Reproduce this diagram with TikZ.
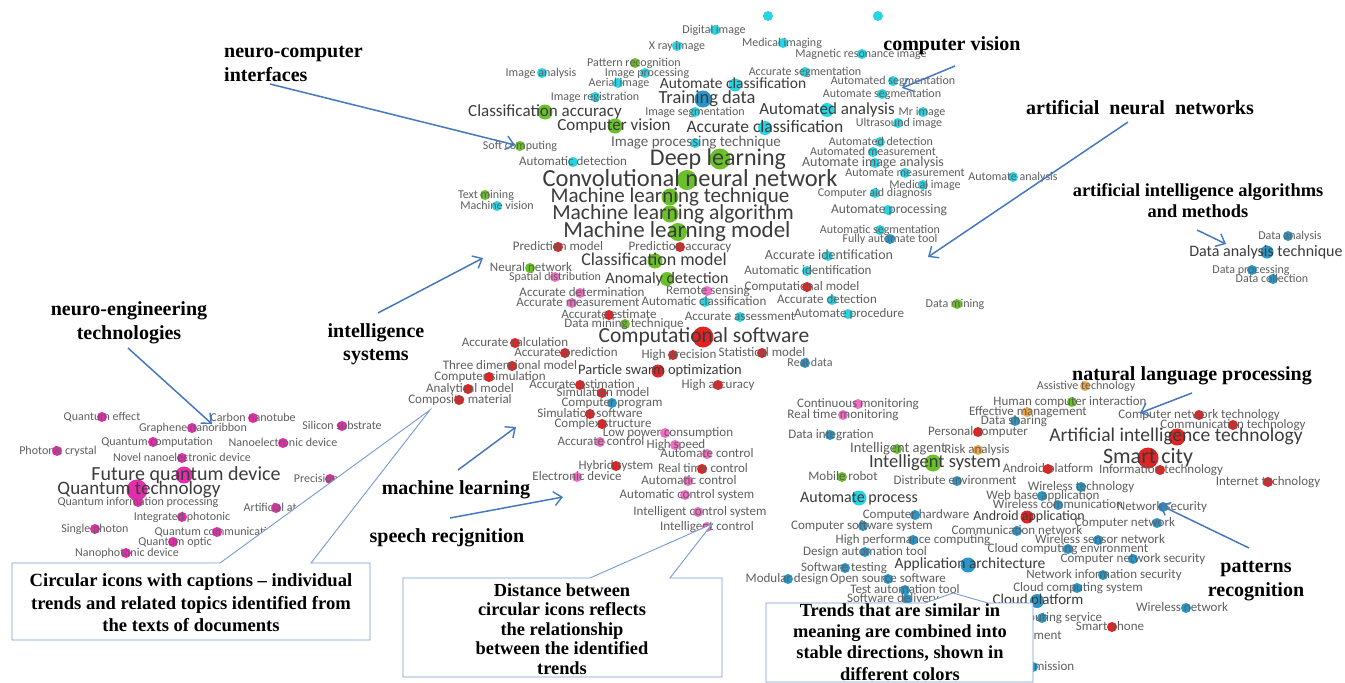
\documentclass[tikz,border=0pt]{standalone}
\usepackage{fontspec}
\setmainfont{Liberation Serif}
\newfontfamily\termfont{Carlito}
\usetikzlibrary{arrows.meta}
\pgfdeclarelayer{dots}
\pgfsetlayers{dots,main}
\definecolor{cy}{RGB}{40,212,228}
\definecolor{gr}{RGB}{105,192,40}
\definecolor{rd}{RGB}{225,35,35}
\definecolor{pk}{RGB}{240,110,195}
\definecolor{mg}{RGB}{228,45,170}
\definecolor{bl}{RGB}{40,150,200}
\definecolor{orc}{RGB}{240,165,70}
\definecolor{txt}{RGB}{95,95,95}
\definecolor{txtd}{RGB}{60,60,60}
\definecolor{arr}{RGB}{70,120,190}
\definecolor{boxc}{RGB}{120,155,210}
\newcounter{tn}
% #1 x, #2 y, #3 dot x, #4 colour, #5 radius, #6 font size, #7 text colour, #8 text
\newcommand\trm[8]{%
  \stepcounter{tn}%
  \begin{pgfonlayer}{dots}\fill[#4] (#3,#2) circle (#5);\end{pgfonlayer}%
  \node[term,text=#7,font=\termfont\fontsize{#6}{#6}\selectfont] (t\number\value{tn}) at ({#1},{#2+0.25*#6}) {#8};}
\newcommand\sm[6][12]{\trm{#2}{#3}{#4}{#5}{5}{#1}{txt}{#6}}
\newcommand\bt[6]{\trm{#1}{#2}{#3}{#4}{#5}{#6}{txtd}}
\tikzset{
  term/.style={inner sep=0pt,anchor=base},
  lab/.style={font=\bfseries\fontsize{20}{23.5}\selectfont,align=center,inner sep=0pt,text=black},
  pointer/.style={draw=arr,line width=1.5pt,-{Straight Barb[length=8pt,width=14pt,line width=1.4pt]}},
  callout/.style={draw=boxc,line width=0.9pt,fill=white},
  boxtext/.style={font=\bfseries\fontsize{18.6}{22.4}\selectfont,align=center,inner sep=0pt,text=black}
}
\begin{document}
\begin{tikzpicture}[x=1pt,y=-1pt]
\useasboundingbox (0,0) rectangle (1345,683);
\begin{pgfonlayer}{dots}\fill[white] (0,0) rectangle (1345,683);\end{pgfonlayer}
% cut-off dots at top
\begin{pgfonlayer}{dots}\fill[cy] (768,16) circle (5); \fill[cy] (878,16) circle (5);\end{pgfonlayer}
% ---------- computer vision cluster ----------
\sm{714}{30}{715}{cy}{Digital image}
\sm{677}{46}{677}{cy}{X ray image}
\sm{782}{43}{783}{cy}{Medical imaging}
\sm{861}{54}{862}{cy}{Magnetic resonance image}
\sm{634}{63}{635}{gr}{Pattern recognition}
\sm{541}{73}{542}{cy}{Image analysis}
\sm{647}{73}{645}{cy}{Image processing}
\sm{805}{72}{805}{cy}{Accurate segmentation}
\sm{619}{83}{618}{cy}{Aerial image}
\sm{893}{81}{893}{cy}{Automated segmentation}
\sm{882}{94}{882}{cy}{Automate segmentation}
\sm{595}{97}{595}{cy}{Image registration}
\sm{695}{112}{695}{cy}{Image segmentation}
\sm{922}{112}{923}{cy}{Mr image}
\sm{899}{123}{898}{cy}{Ultrasound image}
\sm{520}{146}{520}{gr}{Soft computing}
\sm[15]{696}{143}{695}{cy}{Image processing technique}
\sm{881}{142}{880}{cy}{Automated detection}
\sm{873}{152}{873}{cy}{Automated measurement}
\sm[13]{573}{162}{573}{cy}{Automatic detection}
\sm[14]{873}{163}{875}{cy}{Automate image analysis}
\sm{905}{173}{905}{cy}{Automate measurement}
\sm{1013}{177}{1013}{cy}{Automate analysis}
\sm{925}{185}{923}{cy}{Medical image}
\sm{875}{193}{875}{cy}{Computer aid diagnosis}
\sm{486}{195}{485}{gr}{Text mining}
\sm{497}{206}{497}{cy}{Machine vision}
\sm[13.5]{889}{210}{888}{cy}{Automate processing}
\sm{880}{230}{880}{cy}{Automatic segmentation}
\sm{890}{239}{890}{bl}{Fully automate tool}
\bt{733}{85}{735}{cy}{6.5}{15.5}{Automate classification}
\bt{707}{99}{703}{bl}{8.5}{18.5}{Training data}
\bt{545}{112}{545}{gr}{7.5}{17}{Classification accuracy}
\bt{827}{110}{827}{cy}{7}{17}{Automated analysis}
\bt{614}{126}{615}{gr}{7.5}{17}{Computer vision}
\bt{765}{128}{765}{cy}{7}{17.5}{Accurate classification}
% ---------- machine learning cluster ----------
\bt{718}{159}{720}{gr}{10.5}{24}{Deep learning}
\bt{690}{180}{687}{gr}{10}{24.5}{Convolutional neural network}
\bt{670}{197}{670}{gr}{8.5}{21}{Machine learning technique}
\bt{673}{214}{670}{gr}{8.5}{21.5}{Machine learning algorithm}
\bt{677}{232}{678}{gr}{9}{23}{Machine learning model}
\sm[13]{558}{247}{558}{rd}{Prediction model}
\sm[13]{680}{247}{680}{rd}{Prediction accuracy}
\sm[14]{829}{256}{828}{cy}{Accurate identification}
\bt{654}{261}{655}{gr}{7.5}{18}{Classification model}
\sm[13]{531}{268}{530}{gr}{Neural network}
\sm[13]{808}{271}{807}{cy}{Automatic identification}
\sm{555}{277}{555}{pk}{Spatial distribution}
\bt{667}{279}{667}{gr}{7}{16}{Anomaly detection}
\sm[13]{582}{293}{580}{pk}{Accurate determination}
\sm[13]{708}{291}{707}{pk}{Remote sensing}
\sm[13]{802}{287}{807}{rd}{Computational model}
\sm[13]{578}{303}{572}{pk}{Accurate measurement}
\sm[13]{704}{302}{705}{cy}{Automatic classification}
\sm[13]{827}{300}{832}{cy}{Accurate detection}
\sm{955}{304}{957}{gr}{Data mining}
\sm[13]{609}{315}{609}{rd}{Accurate estimate}
\sm[13]{740}{317}{740}{cy}{Accurate assessment}
\sm[13]{849}{314}{848}{cy}{Automate procedure}
\sm[13]{624}{324}{625}{gr}{Data mining technique}
% ---------- computational cluster ----------
\bt{704}{337}{703}{rd}{10.5}{21.5}{Computational software}
\sm[13]{515}{343}{515}{rd}{Accurate calculation}
\sm[13]{566}{353}{565}{rd}{Accurate prediction}
\sm[13]{679}{355}{673}{rd}{High precision}
\sm[13]{762}{353}{762}{rd}{Statistical model}
\sm{810}{363}{805}{bl}{Real data}
\sm[13]{510}{366}{512}{rd}{Three dimensional model}
\bt{660}{371}{658}{rd}{6.5}{14.5}{Particle swarm optimization}
\sm[13]{490}{377}{489}{rd}{Computer simulation}
\sm[13]{582}{385}{580}{rd}{Accurate estimation}
\sm[13]{718}{385}{718}{rd}{High accuracy}
\sm[13]{470}{389}{468}{rd}{Analytical model}
\sm[13]{603}{393}{602}{rd}{Simulation model}
\sm[13]{460}{400}{459}{rd}{Composite material}
\sm[13]{612}{403}{612}{bl}{Computer program}
\sm[13]{590}{414}{590}{rd}{Simulation software}
\sm[13]{603}{424}{602}{rd}{Complex structure}
\sm[13]{668}{433}{665}{pk}{Low power consumption}
\sm[13]{601}{442}{600}{pk}{Accurate control}
\sm[13]{676}{445}{675}{pk}{High speed}
\sm[13]{707}{454}{707}{pk}{Automate control}
\sm[13]{616}{466}{616}{rd}{Hybrid system}
\sm[13]{703}{469}{702}{rd}{Real time control}
\sm[13]{577}{477}{577}{pk}{Electronic device}
\sm[13]{689}{481}{688}{pk}{Automatic control}
\sm[13]{687}{495}{685}{pk}{Automatic control system}
\sm[13]{700}{512}{698}{pk}{Intelligent control system}
\sm[13]{707}{527}{707}{pk}{Intelligent control}
% ---------- quantum cluster ----------
\sm{102}{417}{102}{mg}{Quantum effect}
\sm{253}{418}{253}{mg}{Carbon nanotube}
\sm{193}{428}{192}{mg}{Graphene nanoribbon}
\sm{342}{426}{342}{mg}{Silicon substrate}
\sm{157}{442}{153}{mg}{Quantum computation}
\sm{283}{443}{283}{mg}{Nanoelectronic device}
\sm{58}{451}{57}{mg}{Photonic crystal}
\sm{182}{458}{182}{mg}{Novel nanoelectronic device}
\bt{186}{475}{184}{mg}{8.5}{20}{Future quantum device}
\sm{316}{479}{330}{mg}{Precision}
\bt{139}{490}{137}{mg}{10.5}{19}{Quantum technology}
\sm{138}{502}{138}{mg}{Quantum information processing}
\sm{278}{508}{276}{mg}{Artificial atom}
\sm{182}{517}{182}{mg}{Integrated photonic}
\sm{95}{529}{95}{mg}{Single photon}
\sm{217}{532}{217}{mg}{Quantum communication}
\sm{175}{542}{173}{mg}{Quantum optic}
\sm{127}{553}{126}{mg}{Nanophotonic device}
% ---------- data analysis cluster ----------
\sm{1290}{236}{1288}{bl}{Data analysis}
\bt{1266}{252}{1267}{bl}{6.5}{16}{Data analysis technique}
\sm{1251}{270}{1252}{bl}{Data processing}
\sm{1272}{279}{1273}{bl}{Data collection}
% ---------- intelligent systems / networks cluster ----------
\sm{1086}{386}{1085}{orc}{Assistive technology}
\sm[13]{1070}{402}{1072}{gr}{Human computer interaction}
\sm[13]{858}{404}{858}{pk}{Continuous monitoring}
\sm[13]{843}{415}{843}{pk}{Real time monitoring}
\sm[13]{1028}{412}{1027}{orc}{Effective management}
\sm[13]{1014}{421}{1015}{bl}{Data sharing}
\sm[13]{1199}{415}{1199}{rd}{Computer network technology}
\sm[13]{1233}{425}{1233}{rd}{Communication technology}
\sm[13]{831}{435}{830}{bl}{Data integration}
\sm[13]{978}{432}{978}{rd}{Personal computer}
\bt{1176}{437}{1177}{rd}{8.5}{19.5}{Artificial intelligence technology}
\sm[14.5]{898}{449}{897}{gr}{Intelligent agent}
\sm[13]{977}{450}{978}{orc}{Risk analysis}
\bt{935}{463}{933}{gr}{8.5}{18.5}{Intelligent system}
\bt{1148}{458}{1148}{rd}{10.5}{22}{Smart city}
\sm[13]{1048}{469}{1048}{rd}{Android platform}
\sm[13]{1161}{470}{1160}{rd}{Information technology}
\sm[13]{1268}{482}{1268}{rd}{Internet technology}
\sm[13]{843}{477}{842}{gr}{Mobile robot}
\sm[13]{955}{481}{957}{bl}{Distribute environment}
\sm[13]{1081}{487}{1081}{bl}{Wireless technology}
\bt{859}{498}{859}{cy}{7.5}{16}{Automate process}
\sm[13]{1043}{496}{1042}{bl}{Web base application}
\sm[13]{1058}{505}{1058}{bl}{Wireless communication}
\sm[13]{1162}{507}{1163}{bl}{Network security}
\sm[13]{916}{515}{915}{bl}{Computer hardware}
\bt{1029}{517}{1027}{rd}{6.5}{14}{Android application}
\sm[13]{1125}{523}{1157}{bl}{Computer network}
\sm[13]{862}{526}{863}{bl}{Computer software system}
\sm[13]{1017}{531}{1017}{bl}{Communication network}
\sm[13]{913}{540}{913}{bl}{High performance computing}
\sm[13]{1100}{540}{1098}{bl}{Wireless sensor network}
\sm[13]{865}{552}{865}{bl}{Design automation tool}
\sm[13]{1068}{549}{1068}{bl}{Cloud computing environment}
\sm[13]{1133}{559}{1133}{bl}{Computer network security}
\bt{970}{565}{968}{bl}{7.5}{15.5}{Application architecture}
\sm[13]{844}{568}{845}{bl}{Software testing}
\sm[13]{787}{579}{788}{bl}{Modular design}
\sm[13]{888}{579}{888}{bl}{Open source software}
\sm[13]{1104}{575}{1103}{bl}{Network information security}
\sm[13]{905}{590}{905}{bl}{Test automation tool}
\sm[13]{1078}{588}{1077}{bl}{Cloud computing system}
\sm[13]{893}{599}{907}{bl}{Software delivery}
\bt{1038}{601}{1037}{bl}{7}{15}{Cloud platform}
\sm[13]{1182}{608}{1186}{bl}{Wireless network}
\sm[13]{1053}{618}{1042}{bl}{Computing service}
\sm[13]{1110}{627}{1112}{rd}{Smart phone}
\sm[13]{1011}{636}{1000}{bl}{Cloud environment}
\sm[13]{1027}{667}{1033}{bl}{Data transmission}
% ---------- callout labels ----------
\node[lab,align=left,anchor=west] (Lnci) at (224,64) {neuro-computer\\interfaces};
\node[lab] (Lcv) at (952,46) {computer vision};
\node[lab] (Lann) at (1140,108) {artificial\ \ neural\ \ networks};
\node[lab,font=\bfseries\fontsize{18.4}{21}\selectfont] (Laim) at (1198,201) {artificial intelligence algorithms\\and methods};
\node[lab] (Lne) at (129,323) {neuro-engineering\\technologies};
\node[lab] (Lis) at (376,344) {intelligence\\systems};
\node[lab] (Lml) at (456,490) {machine learning};
\node[lab] (Lsr) at (447,538) {speech recjgnition};
\node[lab] (Lnlp) at (1192,376) {natural language processing};
\node[lab] (Lpr) at (1256,581) {patterns\\recognition};
% arrow end points
\coordinate (a1s) at (270,84);   \coordinate (a1e) at (515,145);
\coordinate (a2s) at (955,66);   \coordinate (a2e) at (902,88);
\coordinate (a3s) at (1128,122); \coordinate (a3e) at (928,257);
\coordinate (a4s) at (1197,230); \coordinate (a4e) at (1226,244);
\coordinate (a5s) at (128,348);  \coordinate (a5e) at (212,424);
\coordinate (a6s) at (378,313);  \coordinate (a6e) at (483,258);
\coordinate (a7s) at (458,470);  \coordinate (a7e) at (516,427);
\coordinate (a8s) at (450,518);  \coordinate (a8e) at (563,497);
\coordinate (a9s) at (1192,393); \coordinate (a9e) at (1140,413);
\coordinate (a10s) at (1249,548); \coordinate (a10e) at (1160,505);
\foreach \i in {1,...,10} \draw[pointer] (a\i s) -- (a\i e);
% ---------- callout boxes ----------
\draw[callout] (12,563) -- (220,563) -- (430,410) -- (311,563) -- (370,563) -- (370,640) -- (12,640) -- cycle;
\node[boxtext] (BA) at (191,603) {Circular icons with captions -- individual\\trends and related topics identified from\\the texts of documents};
\draw[callout] (403,578) -- (590,578) -- (712,524) -- (670,578) -- (722,578) -- (722,677) -- (403,677) -- cycle;
\node[boxtext,font=\bfseries\fontsize{18.4}{19.6}\selectfont] (BB) at (562,629) {Distance between\\circular icons reflects\\the relationship\\between the identified\\trends};
\draw[callout] (766,603) -- (925,603) -- (953,593) -- (988,603) -- (1033,603) -- (1033,682) -- (766,682) -- cycle;
\node[boxtext,font=\bfseries\fontsize{18.4}{21.3}\selectfont] (BC) at (900,642) {Trends that are similar in\\meaning are combined into\\stable directions, shown in\\different colors};
\end{tikzpicture}
\end{document}
